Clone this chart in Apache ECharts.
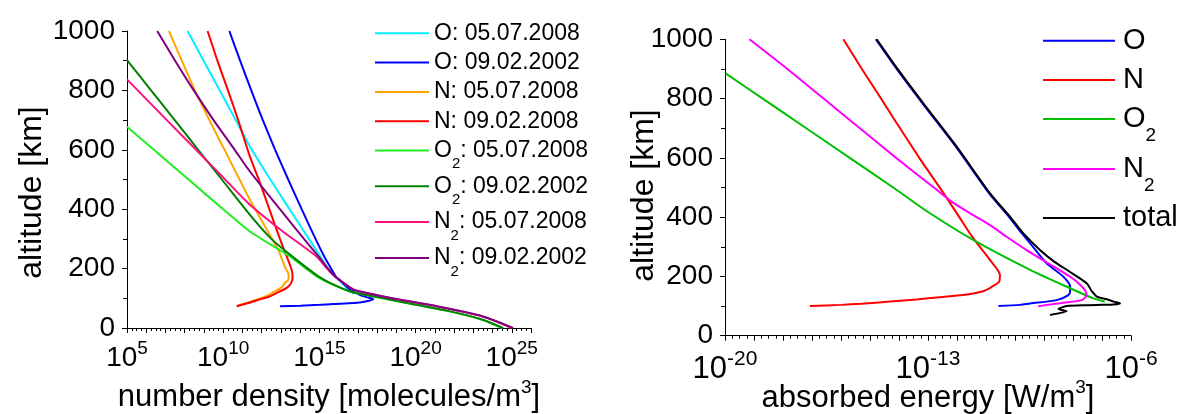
<!DOCTYPE html>
<html>
<head>
<meta charset="utf-8">
<script src="https://cdn.jsdelivr.net/npm/echarts@6/dist/echarts.min.js"></script>
<style>
  html, body { margin: 0; padding: 0; background: #fff; }
  #chart { width: 1185px; height: 414px; }
</style>
</head>
<body>
<div id="chart"></div>
<script>
// ---- left panel: number density, log10(molecules/m^3) vs altitude (km) ----
var oAlt2008 = [1000, 900, 800, 700, 611, 500, 400, 300, 241, 200, 174, 150, 130, 115];
var oLog2008 = [8.15, 8.98, 9.82, 10.65, 11.39, 12.45, 13.45, 14.45, 15.05, 15.45, 15.8, 16.2, 16.5, 16.8];

var oAlt2002 = [1000, 900, 800, 700, 600, 500, 400, 300, 241, 207, 174, 150, 135, 123, 112, 104, 97, 93, 89, 86, 83, 81, 78, 75, 73];
var oLog2002 = [10.32, 10.88, 11.46, 12.06, 12.7, 13.38, 14.08, 14.8, 15.25, 15.55, 15.85, 16.25, 16.5, 16.75, 17.1, 17.45, 17.8, 17.65, 17.4, 17.1, 16.5, 15.7, 15.0, 14.0, 12.95];

var nAlt2008 = [1000, 900, 800, 700, 600, 500, 432, 350, 263, 207, 180, 165, 151, 135, 120, 106, 95, 84, 75];
var nLog2008 = [7.18, 7.85, 8.53, 9.28, 10.07, 10.85, 11.39, 12.1, 12.86, 13.2, 13.4, 13.4, 13.2, 13.0, 12.6, 12.2, 11.7, 11.2, 10.75];

var nAlt2002 = [1000, 900, 800, 700, 577, 500, 400, 300, 207, 180, 165, 150, 135, 120, 106, 95, 84, 73];
var nLog2002 = [9.19, 9.7, 10.25, 10.78, 11.39, 11.85, 12.4, 12.95, 13.5, 13.6, 13.6, 13.52, 13.3, 12.85, 12.4, 11.85, 11.3, 10.7];

var o2Alt2008 = [678, 600, 500, 400, 325, 241, 200, 174, 150, 123, 101, 78, 56, 28, 0];
var o2Log2008 = [5, 6.4, 8.2, 10.0, 11.39, 13.47, 14.3, 14.85, 15.55, 16.6, 18.2, 20.0, 21.75, 23.45, 24.5];

var o2Alt2002 = [902, 800, 700, 600, 500, 381, 300, 247, 200, 174, 150, 123, 101, 78, 56, 28, 0];
var o2Log2002 = [5, 6.25, 7.48, 8.7, 9.93, 11.39, 12.5, 13.47, 14.4, 14.95, 15.6, 16.6, 18.3, 20.05, 21.8, 23.5, 24.55];

var n2Alt2008 = [837, 700, 600, 500, 415, 325, 241, 200, 174, 150, 130, 118, 95, 73, 39, 0];
var n2Log2008 = [5, 7.07, 8.59, 10.1, 11.39, 13.1, 14.85, 15.4, 15.8, 16.3, 16.75, 17.45, 19.2, 21.1, 23.5, 25.0];

var n2Alt2002 = [1000, 900, 800, 700, 600, 527, 400, 300, 241, 200, 174, 150, 130, 118, 95, 73, 39, 0];
var n2Log2002 = [6.57, 7.5, 8.47, 9.5, 10.6, 11.39, 12.95, 14.2, 14.95, 15.45, 15.8, 16.3, 16.75, 17.45, 19.2, 21.1, 23.5, 25.07];

// ---- right panel: absorbed energy, log10(W/m^3) vs altitude (km) ----
var eOAlt = [1000, 900, 784, 638, 480, 400, 345, 300, 244, 199, 165, 150, 137, 120, 109, 104, 100];
var eOLog = [-14.8, -14.08, -13.19, -12.04, -10.89, -10.2, -9.76, -9.38, -8.91, -8.33, -8.1, -8.1, -8.16, -8.56, -9.48, -9.83, -10.57];

var eNAlt = [1000, 900, 800, 728, 600, 486, 400, 329, 255, 205, 182, 165, 150, 137, 130, 122, 115, 108, 104, 100];
var eNLog = [-15.92, -15.28, -14.62, -14.15, -13.3, -12.5, -11.92, -11.44, -10.86, -10.52, -10.55, -10.8, -11.1, -11.8, -12.6, -13.4, -14.3, -15.3, -16.0, -17.07];

var eO2Alt = [885, 800, 700, 600, 500, 413, 323, 222, 160, 126, 115];
var eO2Log = [-19.98, -18.7, -17.2, -15.7, -14.2, -12.93, -11.44, -9.48, -8.1, -7.3, -6.9];

var eN2Alt = [1000, 900, 800, 700, 600, 500, 450, 407, 373, 334, 289, 227, 199, 182, 154, 137, 120, 111, 104, 99];
var eN2Log = [-19.16, -17.85, -16.6, -15.35, -14.1, -12.8, -12.15, -11.44, -10.86, -10.29, -9.6, -8.56, -8.1, -7.87, -7.59, -7.53, -7.7, -8.33, -8.9, -9.2];

var eTotAlt = [1000, 900, 784, 638, 480, 400, 345, 289, 250, 215, 177, 150, 132, 123, 115, 109, 105, 104, 103, 100, 90, 83, 70];
var eTotLog = [-14.77, -14.05, -13.16, -12.01, -10.86, -10.16, -9.71, -9.14, -8.65, -8.1, -7.53, -7.35, -7.18, -6.83, -6.6, -6.38, -6.6, -7.0, -7.53, -8.22, -8.5, -8.22, -8.79];

var leftNames = ['O: 05.07.2008', 'O: 09.02.2002', 'N: 05.07.2008', 'N: 09.02.2008',
                 'O2: 05.07.2008', 'O2: 09.02.2002', 'N2: 05.07.2008', 'N2: 09.02.2002'];
var rightNames = ['O', 'N', 'O2', 'N2', 'total'];
var leftTickExp = [5, 10, 15, 20, 25];
var rightTickExp = [-20, -13, -6];

var FONT = '"Liberation Sans", Arial, sans-serif';

function curve(name, logs, alts, color, idx) {
  return {
    name: name,
    type: 'line',
    xAxisIndex: idx,
    yAxisIndex: idx,
    data: logs.map(function (v, i) { return [v, alts[i]]; }),
    symbol: 'none',
    smooth: 0.25,
    lineStyle: { color: color, width: 2 },
    itemStyle: { color: color },
    clip: false
  };
}

// "O2" -> O with subscript 2
function richName(name) {
  return name.replace(/^([ON])2/, '$1{s|2}');
}

function powLabel(list) {
  return function (v) {
    return list.indexOf(v) >= 0 ? '{b|10}{p|' + v + '}' : '';
  };
}

function tickRich(size, sup, lift) {
  return {
    b: { fontSize: size, fontFamily: FONT, color: '#000', lineHeight: size + 4 },
    p: { fontSize: sup, fontFamily: FONT, color: '#000', lineHeight: size + 4, height: 1, padding: [0, 0, lift, 0] }
  };
}

function xAxis(idx, min, max, list, name, gap, size, sup, lift, margin) {
  return {
    gridIndex: idx, type: 'value', min: min, max: max, interval: 1,
    name: name, nameLocation: 'middle', nameGap: gap, nameMoveOverlap: false,
    nameTextStyle: {
      fontSize: 31, fontFamily: FONT, color: '#000',
      rich: { s: { fontSize: 19, fontFamily: FONT, color: '#000', height: 1, padding: [0, 0, 20, 0] } }
    },
    axisLine: { show: true, onZero: false, lineStyle: { color: '#000', width: 1 } },
    axisTick: { show: true, length: 5, lineStyle: { color: '#000' } },
    minorTick: { show: true, splitNumber: 4, length: 3, lineStyle: { color: '#000' } },
    splitLine: { show: false },
    axisLabel: { margin: margin, formatter: powLabel(list), rich: tickRich(size, sup, lift),
      showMinLabel: true, showMaxLabel: true, hideOverlap: false }
  };
}

// the empty {g| } token pads the rotated name so it sits a little below the axis middle
function yAxis(idx, gap, shift) {
  return {
    gridIndex: idx, type: 'value', min: 0, max: 1000, interval: 200,
    name: 'altitude [km]{g| }', nameLocation: 'middle', nameGap: gap, nameRotate: 90, nameMoveOverlap: false,
    nameTextStyle: { fontSize: 32, fontFamily: FONT, color: '#000',
      rich: { g: { width: shift, fontSize: 32, fontFamily: FONT } } },
    axisLine: { show: true, onZero: false, lineStyle: { color: '#000', width: 1 } },
    axisTick: { show: true, length: 5, lineStyle: { color: '#000' } },
    minorTick: { show: true, splitNumber: 2, length: 4, lineStyle: { color: '#000' } },
    splitLine: { show: false },
    axisLabel: { margin: 12, fontSize: 28, fontFamily: FONT, color: '#000',
      formatter: function (v) { return String(v); } }
  };
}

var legendRich = {
  s: { fontSize: 15, fontFamily: FONT, color: '#000', height: 1, padding: [27, 0, 0, 0] }
};

var rightRich = {
  s: { fontSize: 19, fontFamily: FONT, color: '#000', height: 1, padding: [34, 0, 0, 0] }
};

var rightRows = [40.7, 80, 119, 169, 218];
var rightLegends = rightNames.map(function (n, i) {
  return {
    data: [n], orient: 'vertical', left: 1043, top: rightRows[i] - 18, padding: 0,
    itemWidth: 72, itemHeight: 2, icon: 'rect', selectedMode: false,
    formatter: richName,
    textStyle: { fontSize: 29, fontFamily: FONT, color: '#000', lineHeight: 36, padding: [0, 0, 0, 3], rich: rightRich }
  };
});

var option = {
  animation: false,
  backgroundColor: '#fff',
  grid: [
    { left: 127, top: 31, width: 404, height: 297, outerBoundsMode: 'none', containLabel: false },
    { left: 725, top: 39.3, width: 406, height: 296.4, outerBoundsMode: 'none', containLabel: false }
  ],
  xAxis: [
    xAxis(0, 5, 26, leftTickExp, 'number density [molecules/m{s|3}]', 54, 28, 19, 18, 14),
    xAxis(1, -20, -6, rightTickExp, 'absorbed energy [W/m{s|3}]', 47, 31, 21, 20, 16)
  ],
  yAxis: [yAxis(0, 79, 26), yAxis(1, 65, 16)],
  legend: [{
    data: leftNames, orient: 'vertical', left: 375, top: 33.3 - 14.5, padding: 0,
    itemWidth: 54, itemHeight: 2, icon: 'rect', itemGap: 0.3, selectedMode: false,
    formatter: richName,
    textStyle: { fontSize: 23, fontFamily: FONT, color: '#000', lineHeight: 29, rich: legendRich }
  }].concat(rightLegends),
  series: [
    curve(leftNames[0], oLog2008, oAlt2008, '#00f0ff', 0),
    curve(leftNames[1], oLog2002, oAlt2002, '#0000ff', 0),
    curve(leftNames[2], nLog2008, nAlt2008, '#ffa500', 0),
    curve(leftNames[3], nLog2002, nAlt2002, '#ff0000', 0),
    curve(leftNames[4], o2Log2008, o2Alt2008, '#22ee22', 0),
    curve(leftNames[5], o2Log2002, o2Alt2002, '#008000', 0),
    curve(leftNames[6], n2Log2008, n2Alt2008, '#ff1080', 0),
    curve(leftNames[7], n2Log2002, n2Alt2002, '#800080', 0),
    curve(rightNames[0], eOLog, eOAlt, '#0000ff', 1),
    curve(rightNames[1], eNLog, eNAlt, '#ff0000', 1),
    curve(rightNames[2], eO2Log, eO2Alt, '#00c000', 1),
    curve(rightNames[3], eN2Log, eN2Alt, '#ff00ff', 1),
    curve(rightNames[4], eTotLog, eTotAlt, '#000000', 1)
  ]
};

var chart = echarts.init(document.getElementById('chart'), null, { renderer: 'canvas' });
chart.setOption(option);
</script>
</body>
</html>
